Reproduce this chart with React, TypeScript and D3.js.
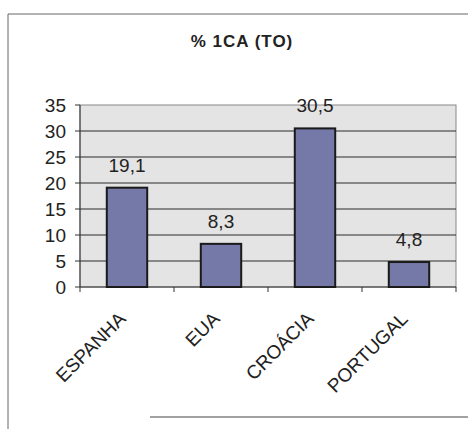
import React from "react";
import * as d3 from "d3";

const categories = ["ESPANHA", "EUA", "CROÁCIA", "PORTUGAL"];
const values = [19.1, 8.3, 30.5, 4.8];
const valueLabels = ["19,1", "8,3", "30,5", "4,8"];
const yTicks = [0, 5, 10, 15, 20, 25, 30, 35];

const W = 468;
const H = 429;
const plot = { left: 80, right: 456, top: 105, bottom: 287 };

const App: React.FC = () => {
  const x = d3
    .scaleBand<string>()
    .domain(categories)
    .range([plot.left, plot.right])
    .paddingInner(0.57)
    .paddingOuter(0.285);
  const y = d3.scaleLinear().domain([0, 35]).range([plot.bottom, plot.top]);
  const step = x.step();
  const font = "'Liberation Sans', Arial, sans-serif";

  return (
    <svg
      width={W}
      height={H}
      style={{ position: "absolute", left: 0, top: 0, background: "#fff" }}
      fontFamily={font}
    >
      {/* outer frame */}
      <path d={`M8,${H} L8,14 L${W},14`} fill="none" stroke="#666" strokeWidth={1} />
      <line x1={150} x2={W} y1={417} y2={417} stroke="#444" strokeWidth={1.2} />

      <text x={242} y={47} textAnchor="middle" fontSize={17} fontWeight="bold" letterSpacing={1} fill="#222">
        % 1CA (TO)
      </text>

      {/* plot area */}
      <rect
        x={plot.left}
        y={plot.top}
        width={plot.right - plot.left}
        height={plot.bottom - plot.top}
        fill="#e4e4e4"
        stroke="#888"
        strokeWidth={1}
      />
      {yTicks.map((t) => (
        <g key={t}>
          {t > 0 && t < 35 && (
            <line x1={plot.left} x2={plot.right} y1={y(t)} y2={y(t)} stroke="#2a2a2a" strokeWidth={1.2} />
          )}
          <line x1={plot.left - 5} x2={plot.left} y1={y(t)} y2={y(t)} stroke="#333" />
          <text x={66} y={y(t)} dy="0.36em" textAnchor="end" fontSize={19} fill="#222">
            {t}
          </text>
        </g>
      ))}

      {/* axes */}
      <line x1={plot.left} x2={plot.left} y1={plot.top} y2={plot.bottom} stroke="#333" />
      <line x1={plot.left} x2={plot.right} y1={plot.bottom} y2={plot.bottom} stroke="#333" strokeWidth={1.2} />
      {d3.range(categories.length + 1).map((i) => (
        <line
          key={i}
          x1={plot.left + i * step}
          x2={plot.left + i * step}
          y1={plot.bottom}
          y2={plot.bottom + 5}
          stroke="#333"
        />
      ))}

      {/* bars */}
      {categories.map((c, i) => (
        <g key={c}>
          <rect
            x={x(c)!}
            y={y(values[i])}
            width={x.bandwidth()}
            height={plot.bottom - y(values[i])}
            fill="#7479a8"
            stroke="#1a1a1a"
            strokeWidth={2}
          />
          <text
            x={x(c)! + x.bandwidth() / 2}
            y={y(values[i]) - 16}
            textAnchor="middle"
            fontSize={19}
            fill="#222"
          >
            {valueLabels[i]}
          </text>
          <text
            transform={`translate(${x(c)! + x.bandwidth() / 2},${plot.bottom + 33}) rotate(-45)`}
            textAnchor="end"
            fontSize={19}
            fill="#222"
          >
            {c}
          </text>
        </g>
      ))}
    </svg>
  );
};

export default App;
